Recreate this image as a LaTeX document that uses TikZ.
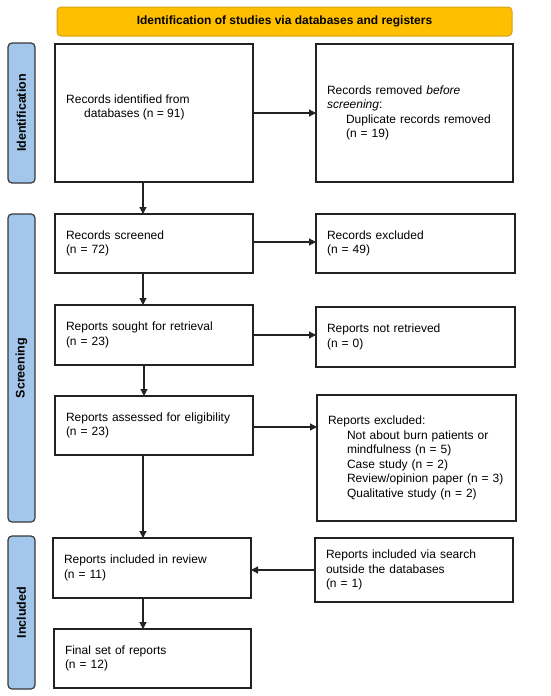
\documentclass[tikz,border=0pt]{standalone}
\usepackage{fontspec}
\setmainfont{Liberation Sans}
\usetikzlibrary{arrows.meta}
\definecolor{sideblue}{HTML}{A3C7EA}
\definecolor{gold}{HTML}{FDBF00}
\definecolor{goldline}{HTML}{D6A21A}
\definecolor{boxline}{HTML}{222222}
\begin{document}
\begin{tikzpicture}[x=1pt,y=-1pt,
  box/.style={draw=boxline,line width=1.4pt,fill=white,inner sep=0pt,outer sep=0pt,
    align=left,font=\fontsize{12}{14.5}\selectfont},
  side/.style={draw=boxline!90,line width=1.2pt,fill=sideblue,rounded corners=4pt,
    minimum width=27pt,inner sep=0pt,outer sep=0pt},
  sidetext/.style={rotate=90,font=\fontsize{12.5}{14}\selectfont\bfseries},
  arr/.style={draw=boxline,line width=1.2pt,-{Triangle[length=7pt,width=7pt]}},
]
\useasboundingbox (0,0) rectangle (550,696);
% banner
\node[draw=goldline,line width=1pt,fill=gold,rounded corners=4pt,minimum width=455pt,
  minimum height=29pt,inner sep=0pt,font=\fontsize{12}{14}\selectfont\bfseries]
  (banner) at (284.5,21.5) {Identification of studies via databases and registers};
% side labels
\node[side,minimum height=140pt] (sideid) at (21.5,113) {};
\node[sidetext] (sideidt) at (sideid.center) {Identification};
\node[side,minimum height=308pt] (sidescr) at (21.5,368) {};
\node[sidetext] (sidescrt) at (sidescr.center) {Screening};
\node[side,minimum height=153pt] (sideinc) at (21.5,612.5) {};
\node[sidetext] (sideinct) at (sideinc.center) {Included};
% boxes
\node[box,minimum width=198pt,minimum height=138pt] (b1) at (154,113) {};
\node[anchor=west,align=left,inner sep=0pt,font=\fontsize{12}{14.5}\selectfont]
  (b1t) at (66,107.5) {Records identified from\\\hspace*{18pt}databases (n = 91)};
\node[box,minimum width=197pt,minimum height=138pt,text width=175pt] (b2) at (414.5,113)
  {Records removed \textit{before}\\\textit{screening}:\\\hspace*{19pt}Duplicate records removed\\\hspace*{19pt}(n = 19)};
\node[box,minimum width=198pt,minimum height=59pt,text width=176pt] (b3) at (154,243.5)
  {Records screened\\(n = 72)};
\node[box,minimum width=199pt,minimum height=59pt,text width=177pt] (b4) at (415.5,243.5)
  {Records excluded\\(n = 49)};
\node[box,minimum width=198pt,minimum height=60pt,text width=176pt] (b5) at (154,335)
  {Reports sought for retrieval\\(n = 23)};
\node[box,minimum width=199pt,minimum height=60pt,text width=177pt] (b6) at (415.5,337)
  {Reports not retrieved\\(n = 0)};
\node[box,minimum width=198pt,minimum height=59pt,text width=176pt] (b7) at (154,425.5)
  {Reports assessed for eligibility\\(n = 23)};
\node[box,minimum width=199pt,minimum height=126pt,text width=177pt] (b8) at (416.5,458)
  {Reports excluded:\\\hspace*{19pt}Not about burn patients or\\\hspace*{19pt}mindfulness (n = 5)\\\hspace*{19pt}Case study (n = 2)\\\hspace*{19pt}Review/opinion paper (n = 3)\\\hspace*{19pt}Qualitative study (n = 2)};
\node[box,minimum width=198pt,minimum height=60pt,text width=176pt] (b9) at (152,568)
  {Reports included in review\\(n = 11)};
\node[box,minimum width=198pt,minimum height=64pt,text width=176pt] (b10) at (414,570)
  {Reports included via search\\outside the databases\\(n = 1)};
\node[box,minimum width=197pt,minimum height=59pt,text width=175pt] (b11) at (152.5,658.5)
  {Final set of reports\\(n = 12)};
% arrows
\draw[arr] (b1.south -| 143,0) -- (b3.north -| 143,0);
\draw[arr] (b3.south -| 143,0) -- (b5.north -| 143,0);
\draw[arr] (b5.south -| 144,0) -- (b7.north -| 144,0);
\draw[arr] (b7.south -| 143,0) -- (b9.north -| 143,0);
\draw[arr] (b9.south -| 143,0) -- (b11.north -| 143,0);
\draw[arr] (b1.east |- 0,113) -- (b2.west |- 0,113);
\draw[arr] (b3.east |- 0,242) -- (b4.west |- 0,242);
\draw[arr] (b5.east |- 0,335) -- (b6.west |- 0,335);
\draw[arr] (b7.east |- 0,427) -- (b8.west |- 0,427);
\draw[arr] (b10.west |- 0,570) -- (b9.east |- 0,570);
\end{tikzpicture}
\end{document}
